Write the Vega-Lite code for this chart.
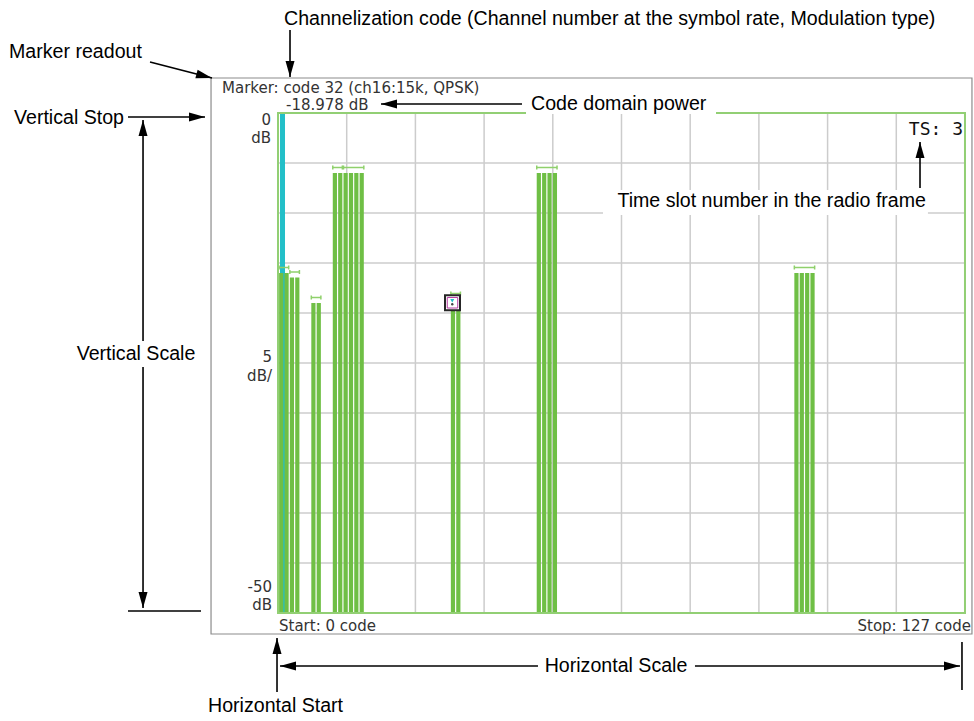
{
"$schema":"https://vega.github.io/schema/vega-lite/v6.json",
"width":974,"height":721,"padding":0,"autosize":{"type":"none"},
"background":"white",
"config":{"view":{"stroke":null}},
"datasets":{
"frame":[{"code":-12.48,"code2":129.3,"dB":3.5,"dB2":-52.1}],
"border":[{"code":0,"code2":128,"dB":0,"dB2":-50}],
"vgrid":[{"code":12.8,"dB":0,"dB2":-50},{"code":25.6,"dB":0,"dB2":-50},{"code":38.4,"dB":0,"dB2":-50},{"code":51.2,"dB":0,"dB2":-50},{"code":64,"dB":0,"dB2":-50},{"code":76.8,"dB":0,"dB2":-50},{"code":89.6,"dB":0,"dB2":-50},{"code":102.4,"dB":0,"dB2":-50},{"code":115.2,"dB":0,"dB2":-50}],
"hgrid":[{"dB":-5,"code":0,"code2":128},{"dB":-10,"code":0,"code2":128},{"dB":-15,"code":0,"code2":128},{"dB":-20,"code":0,"code2":128},{"dB":-25,"code":0,"code2":128},{"dB":-30,"code":0,"code2":128},{"dB":-35,"code":0,"code2":128},{"dB":-40,"code":0,"code2":128},{"dB":-45,"code":0,"code2":128}],
"cyan":[{"code":0,"dB":0}],
"bars":[{"code":0,"dB":-16},{"code":1,"dB":-16},{"code":2,"dB":-16.45},{"code":3,"dB":-16.45},{"code":6,"dB":-19},{"code":7,"dB":-19},{"code":10,"dB":-6},{"code":11,"dB":-6},{"code":12,"dB":-6},{"code":13,"dB":-6},{"code":14,"dB":-6},{"code":15,"dB":-6},{"code":32,"dB":-18.978},{"code":33,"dB":-18.6},{"code":48,"dB":-6},{"code":49,"dB":-6},{"code":50,"dB":-6},{"code":51,"dB":-6},{"code":96,"dB":-16},{"code":97,"dB":-16},{"code":98,"dB":-16},{"code":99,"dB":-16}],
"caps":[{"code":0,"code2":1,"dB":-16},{"code":2,"code2":3,"dB":-16.45},{"code":6,"code2":7,"dB":-19},{"code":10,"code2":11,"dB":-6},{"code":12,"code2":15,"dB":-6},{"code":32,"code2":33,"dB":-18.6},{"code":48,"code2":51,"dB":-6},{"code":96,"code2":99,"dB":-16}],
"marker":[{"code":32,"dB":-18.978}],
"lines":[{"code":2.236,"dB":8.3,"code2":2.236,"dB2":3.6},{"code":-23.85,"dB":5.1,"code2":-12.3,"dB2":3.5},{"code":-27.95,"dB":-0.4,"code2":-13.6,"dB2":-0.4},{"code":-25.15,"dB":-0.7,"code2":-25.15,"dB2":-49.5},{"code":45.46,"dB":0.9,"code2":19.19,"dB2":0.9},{"code":119.62,"dB":-7.5,"code2":119.62,"dB2":-2.9},{"code":0.373,"dB":-55.3,"code2":127.07,"dB2":-55.3},{"code":-0.186,"dB":-57.9,"code2":-0.186,"dB2":-52.5},{"code":-27.95,"dB":-49.8,"code2":-14.35,"dB2":-49.8},{"code":127.44,"dB":-52.9,"code2":127.44,"dB2":-57.7}],
"heads":[{"code":2.236,"dB":3.6,"dir":180},{"code":-12.3,"dB":3.5,"dir":104.5},{"code":-13.6,"dB":-0.4,"dir":90},{"code":-25.15,"dB":-0.7,"dir":0},{"code":-25.15,"dB":-49.5,"dir":180},{"code":19.19,"dB":0.9,"dir":270},{"code":119.62,"dB":-2.9,"dir":0},{"code":0.373,"dB":-55.3,"dir":270},{"code":127.07,"dB":-55.3,"dir":90},{"code":-0.186,"dB":-52.5,"dir":0}],
"masks":[{"code":46.21,"code2":81.61,"dB":1.8,"dB2":-0.1},{"code":60.55,"code2":121.1,"dB":-7.7,"dB2":-10.2},{"code":-38.75,"code2":-14.16,"dB":-22.8,"dB2":-25.4},{"code":48.44,"code2":77.69,"dB":-54.2,"dB2":-56.5}],
"readL":[{"label":"Marker: code 32 (ch16:15k, QPSK)","code":-10.43,"dB":2.0},{"label":"-18.978 dB","code":1.49,"dB":0.3},{"label":"Start: 0 code","code":0.19,"dB":-51.8}],
"readR":[{"label":"0","code":-1.3,"dB":-1.15},{"label":"dB","code":-1.3,"dB":-3.0},{"label":"5","code":-1.12,"dB":-24.9},{"label":"dB/","code":-1.12,"dB":-26.8},{"label":"-50","code":-1.12,"dB":-47.85},{"label":"dB","code":-1.12,"dB":-49.7},{"label":"Stop: 127 code","code":129.12,"dB":-51.8}],
"ts":[{"label":"TS: 3","code":127.63,"dB":-2.2}],
"notesL":[{"label":"Channelization code (Channel number at the symbol rate, Modulation type)","code":1.118,"dB":9.4},{"label":"Marker readout","code":-50.12,"dB":6.1},{"label":"Vertical Stop","code":-49.19,"dB":-0.5},{"label":"Code domain power","code":47.14,"dB":0.9},{"label":"Horizontal Start","code":-13.04,"dB":-59.3}],
"notesC":[{"label":"Vertical Scale","code":-26.46,"dB":-24.1},{"label":"Horizontal Scale","code":62.98,"dB":-55.3}],
"notesR":[{"label":"Time slot number in the radio frame","code":120.73,"dB":-8.8}]
},
"encoding":{
"x":{"field":"code","type":"quantitative","scale":{"domain":[-51.8,129.68],"nice":false,"zero":false},"axis":null},
"y":{"field":"dB","type":"quantitative","scale":{"domain":[-60.8,11.3],"nice":false,"zero":false},"axis":null}
},
"layer":[
{"data":{"name":"frame"},"mark":{"type":"rect","fill":"white","stroke":"#8c8c8c","strokeWidth":1.2},"encoding":{"x2":{"field":"code2"},"y2":{"field":"dB2"}}},
{"data":{"name":"vgrid"},"mark":{"type":"rule","color":"#cccccc","strokeWidth":1.5},"encoding":{"y2":{"field":"dB2"}}},
{"data":{"name":"hgrid"},"mark":{"type":"rule","color":"#cccccc","strokeWidth":1.5},"encoding":{"x2":{"field":"code2"}}},
{"data":{"name":"cyan"},"mark":{"type":"rect","color":"#22bfc8","xOffset":2,"x2Offset":7},"encoding":{"x2":{"field":"code"},"y2":{"datum":-50}}},
{"data":{"name":"bars"},"mark":{"type":"rect","color":"#6fbf45","xOffset":1.1,"x2Offset":5.3},"encoding":{"x2":{"field":"code"},"y2":{"datum":-50}}},
{"data":{"name":"caps"},"mark":{"type":"rule","color":"#8fd06b","strokeWidth":1.5,"xOffset":1.1,"x2Offset":5.3,"yOffset":-5.5},"encoding":{"x2":{"field":"code2"}}},
{"data":{"name":"caps"},"mark":{"type":"rule","color":"#8fd06b","strokeWidth":1.5,"xOffset":1.1,"yOffset":-7.5,"y2Offset":-3.5},"encoding":{"y2":{"field":"dB"}}},
{"data":{"name":"caps"},"mark":{"type":"rule","color":"#8fd06b","strokeWidth":1.5,"xOffset":5.3,"yOffset":-7.5,"y2Offset":-3.5},"encoding":{"x":{"field":"code2","type":"quantitative","scale":{"domain":[-51.8,129.68],"nice":false,"zero":false},"axis":null},"y2":{"field":"dB"}}},
{"data":{"name":"border"},"mark":{"type":"rect","fill":null,"fillOpacity":0,"stroke":"#92cf74","strokeWidth":2},"encoding":{"x2":{"field":"code2"},"y2":{"field":"dB2"}}},
{"data":{"name":"marker"},"mark":{"type":"point","shape":"square","size":225,"filled":true,"fill":"white","stroke":"#262626","strokeWidth":2,"opacity":1,"xOffset":2.75}},
{"data":{"name":"marker"},"mark":{"type":"point","shape":"square","size":110,"filled":false,"stroke":"#b43aa0","strokeWidth":1,"opacity":1,"xOffset":2.75}},
{"data":{"name":"marker"},"mark":{"type":"point","shape":"triangle-down","size":16,"filled":true,"color":"#20bfc8","opacity":1,"xOffset":2.5,"yOffset":-2}},
{"data":{"name":"marker"},"mark":{"type":"point","shape":"circle","size":6,"filled":true,"color":"#444444","opacity":1,"xOffset":2.5,"yOffset":1.5}},
{"data":{"name":"lines"},"mark":{"type":"rule","color":"black","strokeWidth":1.6},"encoding":{"x2":{"field":"code2"},"y2":{"field":"dB2"}}},
{"data":{"name":"heads"},"mark":{"type":"point","shape":"M0,0L-0.45,1.6L0.45,1.6Z","size":400,"filled":true,"color":"black","opacity":1,"strokeWidth":0},"encoding":{"angle":{"field":"dir","type":"quantitative","scale":null}}},
{"data":{"name":"masks"},"mark":{"type":"rect","color":"white"},"encoding":{"x2":{"field":"code2"},"y2":{"field":"dB2"}}},
{"data":{"name":"readL"},"mark":{"type":"text","align":"left","baseline":"alphabetic","font":"DejaVu Sans","fontSize":15,"color":"#333333"},"encoding":{"text":{"field":"label"}}},
{"data":{"name":"readR"},"mark":{"type":"text","align":"right","baseline":"alphabetic","font":"DejaVu Sans","fontSize":15,"color":"#333333"},"encoding":{"text":{"field":"label"}}},
{"data":{"name":"ts"},"mark":{"type":"text","align":"right","baseline":"alphabetic","font":"DejaVu Sans Mono","fontSize":18,"color":"#111111"},"encoding":{"text":{"field":"label"}}},
{"data":{"name":"notesL"},"mark":{"type":"text","align":"left","baseline":"middle","font":"Liberation Sans","fontSize":19.6,"color":"black"},"encoding":{"text":{"field":"label"}}},
{"data":{"name":"notesC"},"mark":{"type":"text","align":"center","baseline":"middle","font":"Liberation Sans","fontSize":19.6,"color":"black"},"encoding":{"text":{"field":"label"}}},
{"data":{"name":"notesR"},"mark":{"type":"text","align":"right","baseline":"middle","font":"Liberation Sans","fontSize":19.6,"color":"black"},"encoding":{"text":{"field":"label"}}}
]
}
